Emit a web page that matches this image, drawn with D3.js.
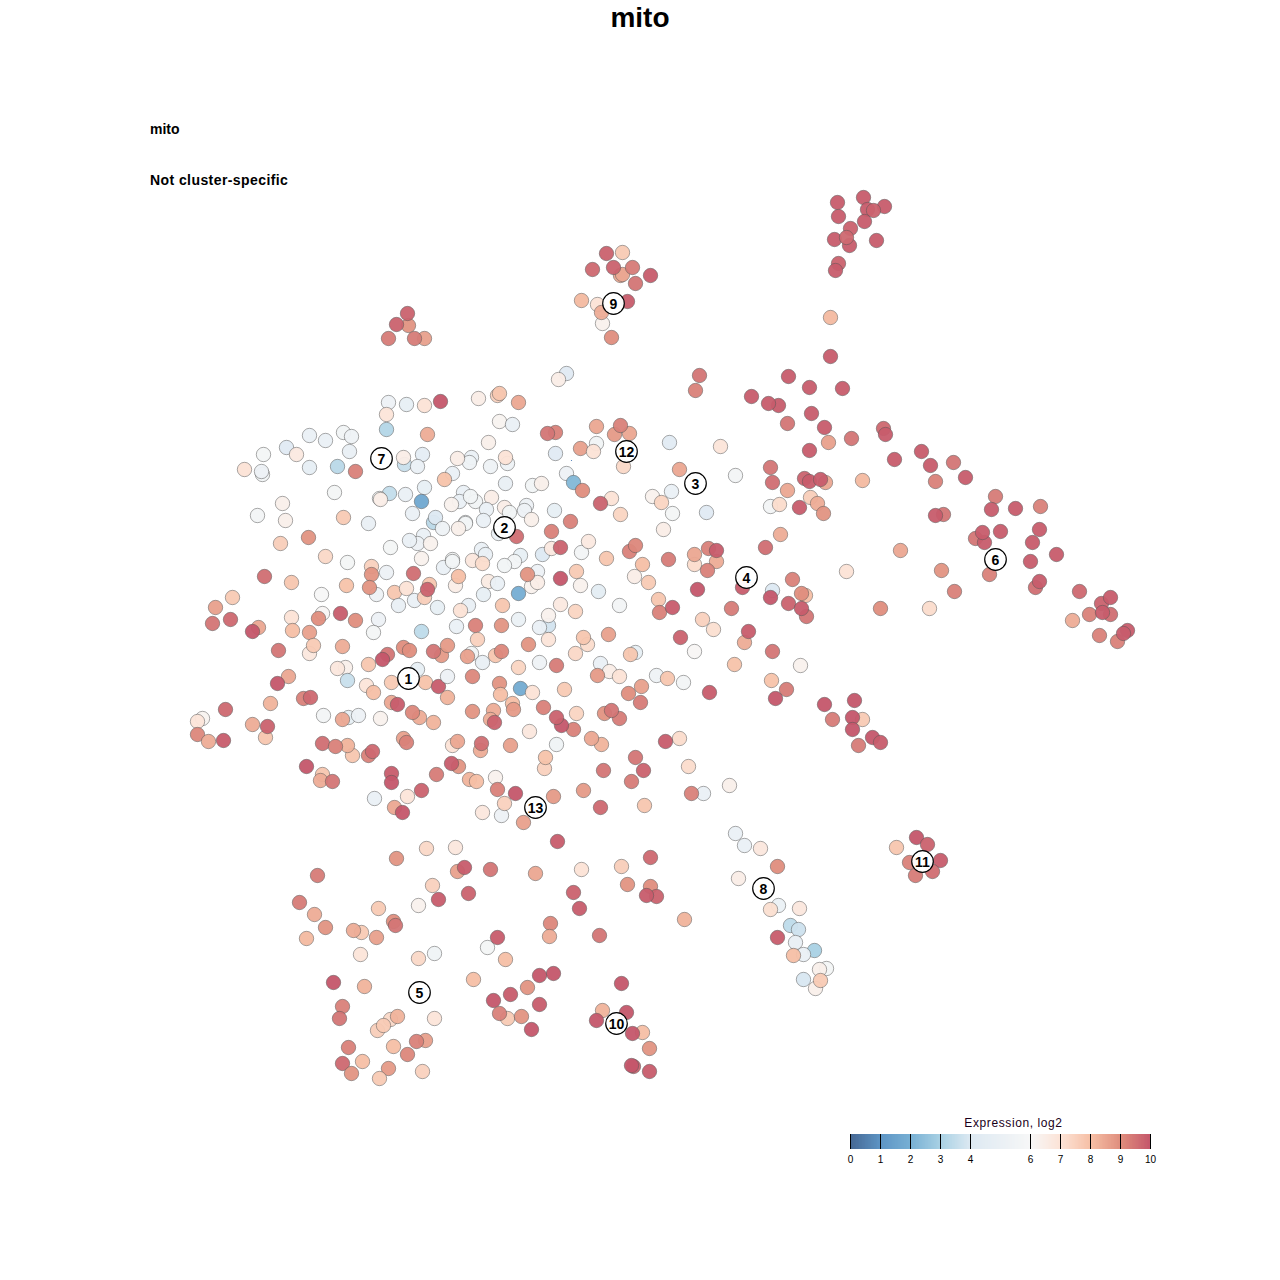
<!DOCTYPE html>
<html>
<head>
<meta charset="utf-8">
<script src="https://cdn.jsdelivr.net/npm/d3@7"></script>
<style>
  html, body { margin: 0; background: #fff; }
  text { font-family: "Liberation Sans", Arial, sans-serif; }
</style>
</head>
<body>
<svg class="tsne" width="1280" height="1280"></svg>
<script>
// cells as [tSNE 1, tSNE 2, mito expression log2]
var cellsWest = [
  [28.8,69.8,5.2],[30.6,69.6,4.8],[32.4,69.5,7],[34,69.9,9.7],[28.6,68.6,6.9],[28.6,67.1,3.2],[32.7,66.6,8.3],[37.8,70.2,6.5],
  [39.7,70.5,7.5],[39.9,70.7,7.8],[24.3,66.8,5.5],[25.1,66.4,5.3],[22.5,66,5],[20.9,66.5,5],[18.6,65.3,4.2],[19.6,64.6,6.7],
  [16.3,64.6,5.7],[14.4,63.1,7],[16.2,62.6,5.5],[16.1,62.9,5.2],[20.9,63.3,4.7],[23.7,63.4,3.3],[24.9,64.9,4.9],[25.5,62.9,9],
  [30.4,63.6,3.6],[32.2,64.6,4.6],[31.7,63.4,5],[30.3,64.3,6.5],[37.1,64.3,5],[36.9,63.8,5.3],[35.7,64.2,6.5],[39,63.4,5.3],
  [35.2,62.7,5],[34.4,62.1,7.9],[23.4,60.8,5.7],[28.9,60.7,3.5],[27.9,60.2,5.7],[28,60.1,6.5],[30.5,60.6,5],[32.4,61.3,4.8],
  [32.1,59.9,1.7],[36.3,60.8,5],[35.9,59.9,5],[37.5,59.9,5.5],[37,60.4,5.5],[35.1,59.6,6.3],[39.1,60.3,6.5],[38.6,59.1,5],
  [36.5,57.8,5.3],[36.5,57.7,5.5],[38.3,58,5],[18.2,59.7,6.4],[15.7,58.5,5.6],[18.5,58,6.4],[24.3,58.3,7.7],[26.8,57.7,4.9],
  [31.2,58.7,5],[33.3,57.8,3.3],[33.5,58.3,4],[34.2,57.2,5.3],[35.8,57.2,6.4],[18,55.7,7.6],[20.8,56.3,8.7],[22.5,54.4,7.3],
  [29,55.3,5.7],[32.3,56.5,5],[31.7,55.7,5.2],[30.9,56,5],[33,55.7,6.3],[32.1,54.2,6.3],[24.7,53.8,5.7],[27.1,53.4,7.5],
  [27.1,52.6,8.7],[28.6,52.8,5.2],[31.3,52.7,9.3],[34.3,53.3,5],[35.2,54.1,5.7],[35.2,53.9,5.5],[38.1,55.1,5],[38.5,54.6,5],
  [37.2,54,6.8],[38.2,53.7,7.2],[16.4,52.4,9.3],[19.1,51.8,7.8],[24.6,51.5,7.9],[27.6,50.6,5.3],[26.9,51.3,8.7],[29.4,50.8,7.8],
  [30.6,51.2,7],[32.9,51.6,7.8],[31.4,50,5],[29.8,49.5,4.9],[32.4,50.3,7.6],[32.7,51.1,9.5],[33.7,49.3,4.8],[35.5,51.5,6.5],
  [35.8,52.4,8],[38.8,51.9,6.6],[38.3,50.6,4.8],[39.7,51.7,5],[36.8,49.5,4.9],[36,49,7],[13.2,50.3,7.7],[11.5,49.3,8.5],
  [22.1,50.6,6],[22.2,48.7,6.1],[21.8,48.2,8.8],[24,48.7,9.6],[25.5,48,8.8],[27.8,48.1,5.2],[27.3,46.8,5.7],[32.1,46.9,3.4],
  [35.6,47.4,5],[37.5,47.5,9],[37.7,46.1,7.5],[11.2,47.7,9.2],[13,48.1,9.4],[15.8,47.3,8.4],[15.2,46.9,9.7],[19.1,48.3,7],
  [19.2,47,8],[20.9,46.8,8.5],[20.9,44.7,6.8],[21.3,45.5,7.7],[17.8,45,9.2],[24.2,45.4,8.3],[26.8,43.6,7.8],[28.7,44.6,9.2],
  [28.2,44.1,9.7],[24.5,43.3,6.4],[23.7,43.2,6.8],[30.3,45.3,8.8],[30.9,45,8.8],[34.1,44.5,8.6],[33.3,44.9,9.2],[34.7,45.5,8.6],
  [37.1,44.7,5.5],[36.7,44.4,8.5],[38.2,43.8,4.9],[39.5,44.5,7.8],[40.1,44.9,8.9]
];

var cellsSouthWest = [
  [31.7,43.1,4.8],[24.7,42,3.6],[18.8,42.4,8.4],[17.7,41.7,9.7],[26.6,41.5,6.9],[27.3,40.8,8],[29.1,41.8,7.7],[32.5,41.8,7.9],
  [33.8,41.4,9.6],[34.7,42.4,5.2],[37.2,42.4,8.9],[34.7,40.3,8.2],[17,39.7,8.2],[20.3,40.2,9],[21,40.3,9.4],[12.5,39.1,9.4],
  [29.1,39.8,8.4],[29.7,39.6,9.6],[31.9,38.3,8.3],[31.2,38.8,8.9],[33.3,37.8,8.2],[37.2,38.9,8.7],[39.3,39,8.3],[10.2,38.2,6.2],
  [9.7,37.9,6.9],[15.2,37.6,8.3],[16.5,36.3,7.8],[16.7,37.4,9.5],[9.7,36.6,8.9],[10.8,35.9,8.3],[12.3,36,9.6],[22.3,38.5,5.6],
  [24.8,38.3,4.8],[24.2,38.1,8.4],[25.8,38.5,5.2],[28,38.2,6.3],[22.2,35.7,9.3],[25.2,34.5,7.8],[24.7,35.5,8.2],[23.5,35.4,9],
  [26.8,34.5,9],[27.2,34.9,9.4],[30.3,36.2,8.5],[30.6,35.8,9],[20.6,33.4,9.8],[22.2,32.6,7.8],[22,32,8.3],[23.2,31.9,9.2],
  [29.1,32.7,9.6],[29.1,31.8,9.7],[32.1,31,9.5],[30.7,30.4,6.9],[27.4,30.2,5],[29.4,29.3,8.4],[30.2,28.8,9.8],[33.6,32.6,9.1],
  [35.8,33.4,8.7],[35.1,33.7,9.6],[36.9,32.1,8.2],[37.6,31.9,8],[35.2,35.5,7],[35.7,35.9,8.4],[38,35,8.3],[38.1,35.7,9.3],
  [39.5,32.3,6.3],[39.7,31.1,9],[38.2,28.8,6.8],[40.1,28.5,5.2],[40.4,29.7,7.5]
];

var cellsCentre = [
  [46.6,72.7,4.2],[45.8,72.1,6.5],[41.8,69.8,8.4],[39.9,67.9,6.2],[41.2,67.6,5],[38.8,65.8,6.4],[45.5,66.8,9],[44.7,66.7,9.2],
  [49.6,67.4,8.4],[51.4,66.6,8.6],[52.9,66.7,8.4],[52,67.5,9],[49.6,65.7,5.5],[48,65.2,8.5],[49.3,64.9,7],[45.5,64.7,4.2],
  [52.3,63.4,7.3],[56.9,65.8,4.3],[62,65.4,6.9],[40.7,63.7,5.3],[40.5,64.3,7],[57.9,63.1,8.4],[63.5,62.5,5.6],[46.6,62.7,5.2],
  [47.3,61.8,2.2],[48.2,61,8.8],[43.2,61.5,5.5],[44.1,61.7,6.4],[40.5,61.7,4.9],[55.2,60.4,6.3],[57.1,60.9,5],[56.1,59.8,7.4],
  [57.2,58.7,5.7],[60.6,58.8,4.2],[51.1,60.2,7],[50,59.7,9.5],[52,58.6,7.4],[40.4,59.3,6.5],[40.9,58.8,5.5],[42.6,59.5,5.2],
  [42.4,59,5.2],[43.1,58.1,6.4],[45.4,59,4.8],[47,57.9,9],[45.1,56.9,9],[39.8,56.7,5],[41.6,56.4,9.3],[56.3,57.1,6.5],
  [44.2,54.6,4],[45.1,55.2,6.7],[46,55.3,9.5],[48.1,54.8,5.6],[48.8,55.9,6.7],[42,54.5,4.8],[41.4,53.9,5.6],[40.4,53.5,5.5],
  [50.6,54.2,7.8],[52.9,54.9,9],[53.5,55.5,8.9],[56.8,54.1,9.1],[59.4,53.6,7.2],[59.4,54.6,8.4],[61.6,53.9,8.3],[60.8,55.2,9],
  [61.6,55,9.6],[60.7,53,9],[66.5,55.3,9.3],[68,56.6,8.3],[54.2,53.6,8],[53.4,52.4,6.5],[54.8,51.8,7.7],[43.7,52.9,5.2],
  [43.1,51.4,6.3],[43.7,51.8,6.5],[42.7,52.6,8.7],[41.8,50.7,1.9],[40.2,49.5,7.8],[46,52.2,9.7],[47.6,52.9,7.7],[48,51.5,6.3],
  [49.8,50.9,4.5],[51.9,49.5,5.6],[55.8,50.1,7.8],[55.9,48.8,9],[57.2,49.3,9.6],[59.7,51.1,9.7],[63.1,49.2,9.1],[64.2,51.3,9.6],
  [67.2,51,4],[67,50.3,9.7],[68.8,49.7,9.5],[69.2,52.1,9],[46,49.6,6.7],[47.5,48.9,7.4],[44.8,47.5,3.8],[43.9,47.3,5],
  [44.8,48.5,6.3],[41.8,48.1,5.1],[40.1,47.5,8.7],[44.8,46.1,6.9],[42.8,45.6,8.7],[43.9,43.8,5.3],[45.6,43.5,9.1],[41.8,43.3,7.4],
  [48.7,45.6,7.2],[48.3,46.3,7.8],[47.5,44.7,7.3],[50.8,46.6,8.5],[53.5,44.8,4.8],[53,44.6,7.8],[58,46.3,9.5],[64.4,45.8,8.3],
  [64.8,46.9,9.6],[59.4,44.9,6.1],[60.2,48.1,7.5],[61.3,47.1,7.1],[67.2,44.9,9.2],[63.4,43.6,7.9],[70,43.5,6.3],[50,43.7,5],
  [50.9,42.9,6.5],[51.9,42.4,7],[49.7,42.5,8.6],[55.6,42.5,5.3],[58.3,41.8,5.6],[56.7,42.2,7.8]
];

var cellsSouth = [
  [39.9,41.7,8.7],[40,40.6,8],[42,41.2,1.8],[43.2,40.8,7],[46.4,41.1,7.7],[41.2,39.7,8],[41.3,39.1,8.6],[39,38.1,8.3],
  [39.4,37.8,9.5],[44.3,39.3,9],[47.3,37.1,9],[46.1,37.5,9.7],[45.6,38.3,9.5],[47.6,38.7,7.4],[50.4,38.7,8.7],[51.9,38.2,9.1],
  [51.1,39,9.2],[52.8,40.7,8.8],[54.1,41.4,8.5],[54,39.8,9.1],[42.9,36.9,6.8],[41,35.5,8.5],[50.1,35.6,8.2],[49.1,36.2,8.4],
  [45.6,35.6,5.4],[44.4,33.2,7.5],[44.5,34.3,7.9],[53.5,34.3,9.2],[54.3,33,9.5],[50.3,33,9.2],[53.1,31.9,9.1],[57.9,36.2,7.2],
  [56.5,35.9,9.6],[58.8,33.4,7.2],[60.3,30.7,5],[59.1,30.7,9],[62.9,31.5,6.4],[41.5,30.7,9.8],[45.3,30.4,8.6],[48.3,31,8.6],
  [50,29.3,9.4],[54.4,29.5,7.8],[42.3,27.8,8.5],[60.9,40.8,9.6],[67.1,42,7.9],[68.6,41.1,9.1],[67.5,40.2,9.7]
];

var cellsEast = [
  [73,74.4,9.6],[59.9,72.5,9.2],[59.5,71,9],[68.8,72.4,9.6],[70.9,71.3,9.6],[74.2,71.2,9.6],[65.1,70.4,9.6],[67.8,69.5,9.6],
  [66.8,69.7,9.6],[71.1,68.7,9.6],[68.7,67.7,9.2],[72.8,65.8,8.5],[72.4,67.3,9.6],[75.1,66.2,9.2],[70.9,65,9.6],[78.3,67.2,9.4],
  [78.5,66.6,9.6],[82.1,64.9,9.6],[79.4,64.1,9.6],[83,63.5,9.6],[85.3,63.8,9.2],[86.5,62.3,9.6],[83.5,61.9,9],[67,63.3,9.2],
  [67.2,61.8,9.3],[68.7,61,8.4],[70.4,62.2,9.5],[72.5,61.8,8.4],[70.9,61.9,9.6],[72,62.1,9.6],[76.2,62,8.1],[71,60.3,7.6],
  [71.7,59.7,8.3],[69.9,59.3,9.6],[72.3,58.7,8.7],[67,59.4,5.6],[67.9,59.6,7.2],[84.3,58.6,9.2],[83.5,58.5,9.6],[80,55,8.4],
  [74.6,52.9,7],[84.1,53,8.7],[85.4,50.9,9],[78,49.2,8.8],[82.9,49.2,7.2],[70.5,50.5,8],[70.1,50.7,8.8],[70.6,48.4,9.2],
  [70.1,49.2,9.6],[89.5,60.4,9.1],[89.1,59.1,9.6],[91.5,59.2,9.6],[94,59.4,9],[93.9,57.1,9.6],[90,56.9,9.6],[87.5,56.2,9.2],
  [88.4,55.8,9.6],[88.2,56.8,9.6],[93.2,55.8,9.6],[95.6,54.6,9.6],[93,53.9,9.6],[88.9,52.6,9],[93.5,51.3,9.3],[93.9,51.9,9.6],
  [97.9,50.9,9.4],[100.1,49.7,9.5],[101,48.6,9.3],[101,50.3,9.6],[98.9,48.6,9],[100.2,48.8,9.6],[97.2,48,8.3],[99.9,46.5,9],
  [101.7,45.9,9],[102.7,47,9.6],[102.3,46.7,9.6],[72.4,39.6,9.7],[75.4,40,9.7],[73.2,38.1,9.1],[76.2,38.1,7.7],[75.2,38.3,9.7],
  [75.2,37.1,9.7],[75.8,35.5,9.1],[77.2,36.3,9.7],[78,35.8,9.6]
];

var cellsTrail = [
  [63.5,26.7,5],[64.4,25.5,5],[66,25.2,6.8],[67.7,23.4,8.8],[63.8,22.2,6.5],[67.8,19.5,5.1],[67,19.1,7.1],[69.9,19.2,6.8],
  [69,17.5,3.4],[69.8,17.1,3.7],[67.7,16.3,9.6],[69.5,15.8,4.9],[71.4,15,3],[70.3,14.6,5],[69.3,14.5,8],[72.6,13.2,5.7],
  [71.9,13.1,6.4],[70.3,12.1,3.9],[71.5,11.2,6.4],[72,12,7.7],[81.6,26.3,9.7],[82.7,25.6,9.5],[79.6,25.3,7.8],[80.9,23.8,9],
  [84,24,9.6],[83.2,22.9,9.3],[81.5,22.5,9.1]
];

var cellsBottom = [
  [32.6,25.2,7.3],[35.5,25.3,6.8],[29.6,24.2,8.7],[35.7,22.9,8.5],[36.4,23.3,9.6],[39,23.1,9.2],[45.7,25.9,9.6],[43.5,22.7,8.4],
  [48.1,23.1,7],[52.1,23.4,7.6],[55,24.3,9.4],[21.7,22.5,9.1],[33.2,21.5,7.5],[33.8,20.1,9.6],[36.8,20.7,9.5],[31.8,19.5,6.3],
  [47.3,20.8,9.5],[47.9,19.2,9.6],[52.7,21.6,8.7],[55,21.4,8.8],[55.6,20.4,9.5],[54.6,20.5,9.6],[19.9,19.8,9.1],[21.4,18.6,8.3],
  [27.8,19.2,7.7],[22.5,17.3,8.7],[20.6,16.2,8.1],[26.1,16.8,7.7],[25.3,17,8.3],[27.6,16.3,8.5],[29.3,17.9,8.8],[29.5,17.5,9.2],
  [26,14.6,6.9],[31.8,14.2,7.3],[33.4,14.7,5.4],[38.7,15.3,5.7],[39.7,16.3,9.6],[40.5,14.1,8],[45,17.7,8.9],[44.9,16.4,8.3],
  [49.9,16.5,9.2],[58.4,18.1,8.2],[23.3,11.8,9.7],[26.4,11.4,8.2],[37.3,12.1,8],[45.3,12.7,9.7],[43.9,12.5,9.7],[42.7,11.3,8.7],
  [41,10.6,9.6],[39.3,10,9.7],[43.9,9.6,9.6],[40.7,8.2,7.7],[39.9,8.7,9],[42.1,8.4,8.7],[43.1,7.1,9.7],[52.1,11.7,9.7],
  [50.2,9,8.2],[52.6,8.8,9.7],[49.6,8,9.7],[54.2,6.8,8],[53.2,6.7,9.7],[54.9,5.2,8.7],[53.3,3.4,9.5],[53.1,3.5,9.7],
  [54.9,2.9,9.6],[24.2,9.4,9],[23.9,8.2,9.2],[29,8.1,7.3],[27.7,7,7.6],[28.3,7.5,7.7],[29.7,8.4,8.2],[33.4,8.2,6.9],
  [24.8,5.3,9],[29.3,5.4,8],[32.5,6,8.5],[31.6,5.9,9],[30.7,4.6,8.9],[24.2,3.7,9.4],[26.2,3.9,8],[25.1,2.7,8.7],
  [28.8,3.2,8.6],[27.9,2.2,7.7],[32.2,2.9,7.5]
];

var cellsTop = [
  [30.8,77.5,8.7],[30.7,78.7,9.5],[29.6,77.6,9.5],[28.8,76.2,9.1],[32.4,76.2,8.5],[31.4,76.2,9.1],
  [52.2,84.8,7.7],[50.6,84.7,9.5],[49.2,83.1,9.4],[52,82.5,8.4],[52.2,82.6,8.4],[53.2,83.3,9.1],[51.3,83.3,9.5],[55,82.5,9.6],
  [53.5,81.7,9.2],[48.1,80,8.1],[52.7,79.9,9.6],[49.7,79.6,7],[50.2,77.7,6.3],[50.1,78.8,8.3],[51.1,76.3,8.8],
  [73.7,89.8,9.6],[76.3,90.3,9.6],[73.8,88.4,9.6],[76.7,89.1,9.6],[78.4,89.4,9.6],[77.3,89,9.5],[76.4,87.9,9.6],[75,87.2,9.5],
  [73.4,86.1,9.6],[74.9,85.5,9.6],[74.6,86.3,9.4],[77.6,86,9.6],[73.8,83.7,9.5],[73.5,83,9.6],[73,78.3,8.1]
];

// a tiny stray mark in the middle of the plot
var specks = [[47.1,64.0]];

var clusterIds = [1, 2, 3, 4, 5, 6, 7, 8, 9, 10, 11, 12, 13];
var clusterT1 = [30.8, 40.4, 59.5, 64.6, 31.9, 89.5, 28.1, 66.3, 51.3, 51.6, 82.2, 52.6, 43.5];
var clusterT2 = [42.2, 57.3, 61.7, 52.3, 10.8, 54.1, 64.2, 21.2, 79.7, 7.7, 23.9, 64.9, 29.3];

var legendStops = [0, 1, 2, 3, 4, 6, 7, 8, 9, 10];
var legendColors = ["#466894", "#5e95c5", "#78b0d4", "#a9d1e4", "#dde9f2", "#f7f7f7", "#fce3d6", "#f6bfa5", "#df8d7d", "#c4566a"];
// my readings of the reds sit a little low, so the point ramp tops out earlier
var pointStops = [0, 1, 2, 3, 4, 6, 7, 8, 8.8, 9.7];

var svg = d3.select(".tsne");

var x = d3.scaleLinear().domain([0, 100]).range([100.5, 1100.5]);
var y = d3.scaleLinear().domain([0, 100]).range([1100.5, 100.5]);

var color = d3.scaleLinear().domain(legendStops).range(legendColors);
var pointColor = d3.scaleLinear().domain(pointStops).range(legendColors).clamp(true);

var cells = cellsWest.concat(cellsSouthWest, cellsCentre, cellsSouth, cellsEast, cellsTrail, cellsBottom, cellsTop);

svg.append("text")
    .attr("x", 640)
    .attr("y", 27)
    .attr("text-anchor", "middle")
    .attr("font-size", 28)
    .attr("font-weight", "bold")
    .text("mito");

svg.append("text")
    .attr("x", 150)
    .attr("y", 134)
    .attr("font-size", 14)
    .attr("font-weight", "bold")
    .text("mito");

svg.append("text")
    .attr("x", 150)
    .attr("y", 185)
    .attr("font-size", 14)
    .attr("font-weight", "bold")
    .attr("letter-spacing", 0.42)
    .text("Not cluster-specific");

svg.append("g")
    .selectAll("circle")
    .data(cells)
  .enter().append("circle")
    .attr("cx", function(d) { return x(d[0]); })
    .attr("cy", function(d) { return y(d[1]); })
    .attr("r", 7.2)
    .attr("fill", function(d) { return pointColor(d[2]); })
    .attr("fill-opacity", 0.95)
    .attr("stroke", "#555")
    .attr("stroke-opacity", 0.5)
    .attr("stroke-width", 1);

svg.append("g")
    .selectAll("circle")
    .data(specks)
  .enter().append("circle")
    .attr("cx", function(d) { return x(d[0]); })
    .attr("cy", function(d) { return y(d[1]); })
    .attr("r", 0.6)
    .attr("fill", "#4575b4");

var labels = svg.append("g")
    .selectAll("g")
    .data(clusterIds)
  .enter().append("g")
    .attr("transform", function(d, i) { return "translate(" + x(clusterT1[i]) + "," + y(clusterT2[i]) + ")"; });

labels.append("circle")
    .attr("r", 10.8)
    .attr("fill", "#fff")
    .attr("fill-opacity", 0.95)
    .attr("stroke", "#000")
    .attr("stroke-width", 1.2);

labels.append("text")
    .attr("y", 5)
    .attr("text-anchor", "middle")
    .attr("font-size", 14)
    .attr("font-weight", "bold")
    .text(function(d) { return d; });

// legend
var legendX = d3.scaleLinear().domain([0, 10]).range([850, 1150]);

var legend = svg.append("g")
    .attr("class", "key")
    .attr("transform", "translate(0,1134)");

legend.selectAll("rect")
    .data(d3.range(0, 10, 0.05))
  .enter().append("rect")
    .attr("x", function(d) { return legendX(d); })
    .attr("width", legendX(0.05) - legendX(0) + 0.5)
    .attr("height", 15)
    .attr("fill", function(d) { return color(d); });

legend.append("text")
    .attr("x", 1013.5)
    .attr("y", -7)
    .attr("text-anchor", "middle")
    .attr("font-size", 12)
    .attr("letter-spacing", 0.6)
    .attr("fill", "#1a001a")
    .text("Expression, log2");

legend.append("g")
    .attr("transform", "translate(0,15)")
    .call(d3.axisBottom(legendX)
        .tickValues(legendStops)
        .tickFormat(d3.format("d"))
        .tickSize(-15)
        .tickPadding(7))
    .call(function(g) { g.select(".domain").remove(); })
    .call(function(g) {
      g.selectAll("text")
        .attr("font-size", 10)
        .attr("fill", "#000")
        .attr("font-family", "'Liberation Sans', Arial, sans-serif");
    });
</script>
</body>
</html>
